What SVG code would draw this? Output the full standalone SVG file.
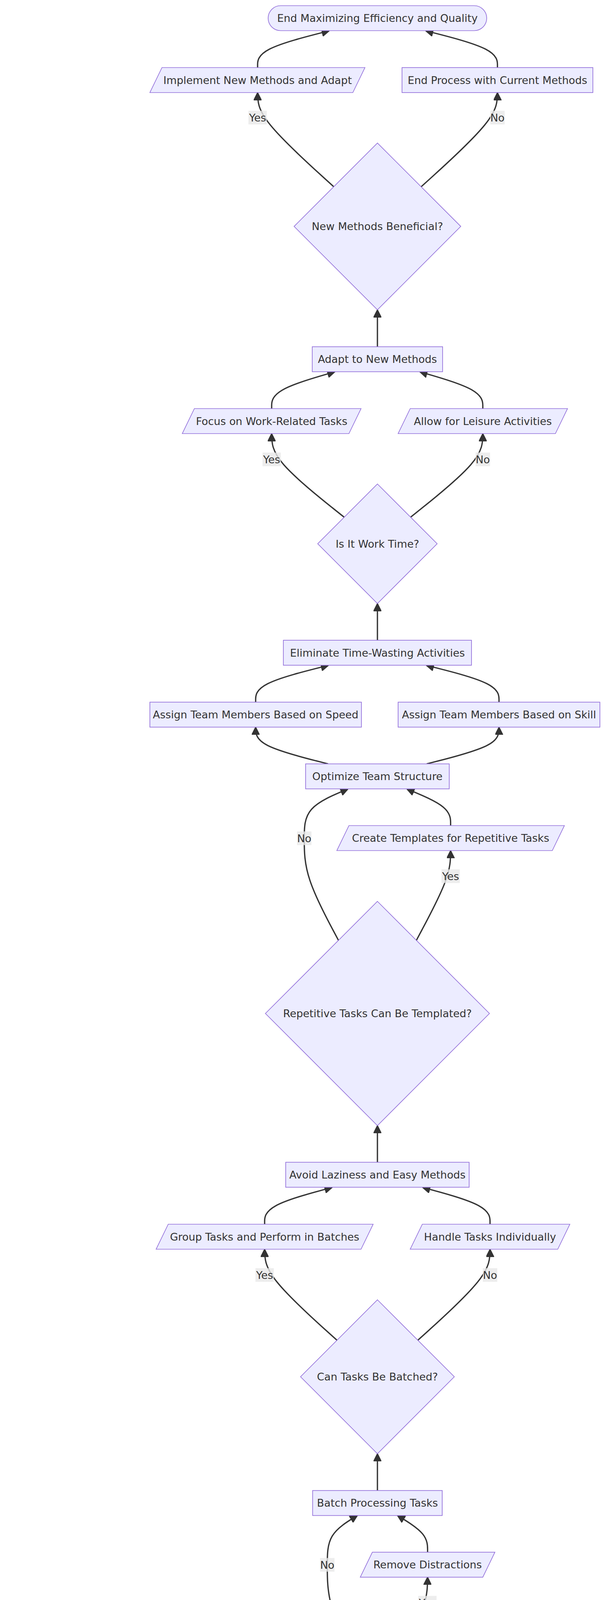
<svg xmlns="http://www.w3.org/2000/svg" width="1568" height="5816" viewBox="0 0 1568 5816">
<style>
.n{fill:#ECECFF;stroke:#9370DB;stroke-width:1.7}
.t{font-family:"DejaVu Sans",Verdana,sans-serif;font-size:26.9px;fill:#333;text-anchor:middle;dominant-baseline:central}
.e{fill:none;stroke:#333;stroke-width:3.3}
.lb{fill:#e8e8e8;opacity:0.8}
</style>
<defs>
<marker id="arr" viewBox="0 0 10 10" refX="9.5" refY="5" markerUnits="userSpaceOnUse" markerWidth="20" markerHeight="20" orient="auto"><path d="M0,0 L10,5 L0,10 z" fill="#333" stroke="#333" stroke-width="1"/></marker>
</defs>
<rect width="1568" height="5816" fill="#ffffff"/>
<g id="edges">
<path class="e" marker-end="url(#arr)" d="M657.5,5677 L657.5,5583"/>
<path class="e" marker-end="url(#arr)" d="M657.5,5518.5 L657.5,5424"/>
<path class="e" marker-end="url(#arr)" d="M528.1,5015.9 L498.2,4983.8 C468.2,4951.6 408.4,4887.3 378.4,4844.3 C348.3,4801.3 348.2,4779.5 348,4758"/>
<path class="e" marker-end="url(#arr)" d="M787.1,5016 L817.1,4983.8 C847.1,4951.7 907,4887.3 937,4844.3 C967,4801.3 967,4779.5 967,4758"/>
<path class="e" marker-end="url(#arr)" d="M348,4693.8 L348,4415.5"/>
<path class="e" marker-end="url(#arr)" d="M967,4693.8 L967,4600"/>
<path class="e" marker-end="url(#arr)" d="M1034.7,4235.1 L1044.8,4213.1 C1054.8,4191.1 1074.9,4147 1085,4114.1 C1095.2,4081.2 1095.3,4059.4 1095.5,4038"/>
<path class="e" marker-end="url(#arr)" d="M899.1,4235.3 L889,4213.3 C878.9,4191.2 858.7,4147.1 848.6,4108.9 C838.5,4070.7 838.5,4038.3 838.5,4009 C838.5,3979.6 838.5,3953.2 851.3,3932.2 C864.1,3911.1 889.6,3895.4 915.2,3880"/>
<path class="e" marker-end="url(#arr)" d="M1095.5,3973.6 L1095.5,3965.8 C1095.5,3958 1095.5,3942.4 1082.7,3926.8 C1069.9,3911.1 1044.4,3895.4 1018.8,3880"/>
<path class="e" marker-end="url(#arr)" d="M967,3815.7 L967,3722"/>
<path class="e" marker-end="url(#arr)" d="M863.4,3431.1 L832.5,3403.3 C801.6,3375.4 739.8,3319.7 708.9,3280.9 C678,3242 678,3220 678,3198.5"/>
<path class="e" marker-end="url(#arr)" d="M1070.5,3431 L1101.3,3403.2 C1132.2,3375.3 1193.8,3319.7 1224.7,3280.8 C1255.5,3242 1255.5,3220 1255.5,3198.5"/>
<path class="e" marker-end="url(#arr)" d="M678,3134 L678,3126.1 C678,3118.2 678,3102.5 706.7,3086.7 C735.5,3070.9 792.9,3055.2 850.4,3040"/>
<path class="e" marker-end="url(#arr)" d="M1255.5,3134 L1255.5,3126.1 C1255.5,3118.2 1255.5,3102.5 1226.8,3086.7 C1198.1,3070.9 1140.8,3055.2 1083.4,3040"/>
<path class="e" marker-end="url(#arr)" d="M967,2975.4 L967,2882"/>
<path class="e" marker-end="url(#arr)" d="M1066.8,2407.3 L1081.4,2379.9 C1096,2352.5 1125.3,2297.8 1139.9,2259.5 C1154.5,2221.2 1154.5,2199.3 1154.5,2178"/>
<path class="e" marker-end="url(#arr)" d="M867.2,2407.3 L852.6,2379.9 C838,2352.5 808.7,2297.8 794.1,2254.1 C779.5,2210.5 779.5,2178 779.5,2148.6 C779.5,2119.2 779.5,2092.8 798.1,2071.8 C816.7,2050.8 853.9,2035.2 891.1,2020"/>
<path class="e" marker-end="url(#arr)" d="M1154.5,2113.5 L1154.5,2105.7 C1154.5,2097.8 1154.5,2082.2 1135.9,2066.5 C1117.3,2050.8 1080.1,2035.2 1042.9,2020"/>
<path class="e" marker-end="url(#arr)" d="M840.6,1955.5 L809.7,1947.7 C778.7,1939.8 716.9,1924.2 686,1908.5 C655,1892.8 655,1877.2 655,1862"/>
<path class="e" marker-end="url(#arr)" d="M1093.2,1955.5 L1124.1,1947.7 C1155,1939.8 1216.7,1924.2 1247.6,1908.5 C1278.5,1892.8 1278.5,1877.2 1278.5,1862"/>
<path class="e" marker-end="url(#arr)" d="M655,1797.5 L655,1789.6 C655,1781.8 655,1766 686,1750.3 C717,1734.5 779,1718.8 841,1703.5"/>
<path class="e" marker-end="url(#arr)" d="M1278.5,1797.5 L1278.5,1789.6 C1278.5,1781.8 1278.5,1766 1247.6,1750.3 C1216.6,1734.5 1154.7,1718.8 1092.8,1703.5"/>
<path class="e" marker-end="url(#arr)" d="M967,1639 L967,1545.5"/>
<path class="e" marker-end="url(#arr)" d="M881.9,1324.1 L850.9,1299.4 C819.9,1274.7 758,1225.4 727,1189.7 C696,1154 696,1132 696,1110.5"/>
<path class="e" marker-end="url(#arr)" d="M1052,1324 L1082.8,1299.3 C1113.7,1274.7 1175.3,1225.3 1206.2,1189.7 C1237,1154 1237,1132 1237,1110.5"/>
<path class="e" marker-end="url(#arr)" d="M696,1046 L696,1038.1 C696,1030.3 696,1014.5 722.9,998.8 C749.8,983.1 803.7,967.3 857.5,952"/>
<path class="e" marker-end="url(#arr)" d="M1237,1046 L1237,1038.1 C1237,1030.3 1237,1014.5 1210.2,998.8 C1183.4,983.1 1129.7,967.3 1076.1,952"/>
<path class="e" marker-end="url(#arr)" d="M967,887.6 L967,793.6"/>
<path class="e" marker-end="url(#arr)" d="M855.1,478 L822.6,448.5 C790.1,419 725,360 692.5,319.8 C660,279.7 660,258.3 660,237.5"/>
<path class="e" marker-end="url(#arr)" d="M1079,478.1 L1111.6,448.6 C1144.2,419.1 1209.3,360 1241.9,319.9 C1274.5,279.7 1274.5,258.3 1274.5,237.5"/>
<path class="e" marker-end="url(#arr)" d="M660,173 L660,165.1 C660,157.3 660,141.5 690.5,125.8 C721,110 782,94.3 843,79"/>
<path class="e" marker-end="url(#arr)" d="M1274.5,173 L1274.5,165.1 C1274.5,157.3 1274.5,141.5 1244,125.8 C1213.4,110 1152.3,94.3 1091.2,79"/>
</g>
<g id="edge-labels">
<g id="lbl-new-yes"><rect class="lb" x="636.5" y="283.5" width="47" height="35"/><text class="t" x="660" y="301">Yes</text></g>
<g id="lbl-new-no"><rect class="lb" x="1256" y="283.5" width="37" height="35"/><text class="t" x="1274.5" y="301">No</text></g>
<g id="lbl-work-yes"><rect class="lb" x="672.5" y="1158.5" width="47" height="35"/><text class="t" x="696" y="1176">Yes</text></g>
<g id="lbl-work-no"><rect class="lb" x="1218.5" y="1158.5" width="37" height="35"/><text class="t" x="1237" y="1176">No</text></g>
<g id="lbl-rep-no"><rect class="lb" x="761" y="2128.5" width="37" height="35"/><text class="t" x="779.5" y="2146">No</text></g>
<g id="lbl-rep-yes"><rect class="lb" x="1131" y="2225.5" width="47" height="35"/><text class="t" x="1154.5" y="2243">Yes</text></g>
<g id="lbl-can-yes"><rect class="lb" x="654.5" y="3246.5" width="47" height="35"/><text class="t" x="678" y="3264">Yes</text></g>
<g id="lbl-can-no"><rect class="lb" x="1237" y="3246.5" width="37" height="35"/><text class="t" x="1255.5" y="3264">No</text></g>
<g id="lbl-any-no"><rect class="lb" x="820" y="3988.5" width="37" height="35"/><text class="t" x="838.5" y="4006">No</text></g>
<g id="lbl-any-yes"><rect class="lb" x="1071.5" y="4085.5" width="47" height="35"/><text class="t" x="1095" y="4103">Yes</text></g>
<g id="lbl-mat-no"><rect class="lb" x="330" y="4805.5" width="37" height="35"/><text class="t" x="348.5" y="4823">No</text></g>
<g id="lbl-mat-yes"><rect class="lb" x="943.5" y="4805.5" width="47" height="35"/><text class="t" x="967" y="4823">Yes</text></g>
</g>
<g id="end"><rect class="n" x="687" y="14.5" width="560" height="64" rx="32" ry="32"/><text class="t" x="967" y="46.5">End Maximizing Efficiency and Quality</text></g>
<g id="implement"><polygon class="n" points="415,173 935,173 904,237 384,237"/><text class="t" x="660" y="205">Implement New Methods and Adapt</text></g>
<g id="endCurrent"><rect class="n" x="1030" y="173" width="489" height="64"/><text class="t" x="1274.5" y="205">End Process with Current Methods</text></g>
<g id="newMethods"><polygon class="n" points="967,366.1 1180.5,579.6 967,793.1 753.5,579.6"/><text class="t" x="967" y="579.6">New Methods Beneficial?</text></g>
<g id="adapt"><rect class="n" x="800" y="887.6" width="334" height="64"/><text class="t" x="967" y="919.6">Adapt to New Methods</text></g>
<g id="focus"><polygon class="n" points="498,1046 925,1046 894,1110 467,1110"/><text class="t" x="696" y="1078">Focus on Work-Related Tasks</text></g>
<g id="allow"><polygon class="n" points="1051,1046 1454,1046 1423,1110 1020,1110"/><text class="t" x="1237" y="1078">Allow for Leisure Activities</text></g>
<g id="isWork"><polygon class="n" points="967,1239 1120,1392 967,1545 814,1392"/><text class="t" x="967" y="1392">Is It Work Time?</text></g>
<g id="eliminate"><rect class="n" x="726" y="1639" width="482" height="64"/><text class="t" x="967" y="1671">Eliminate Time-Wasting Activities</text></g>
<g id="speed"><rect class="n" x="384" y="1797.5" width="542" height="64"/><text class="t" x="655" y="1829.5">Assign Team Members Based on Speed</text></g>
<g id="skill"><rect class="n" x="1020" y="1797.5" width="517" height="64"/><text class="t" x="1278.5" y="1829.5">Assign Team Members Based on Skill</text></g>
<g id="optimize"><rect class="n" x="783" y="1955.5" width="368" height="64"/><text class="t" x="967" y="1987.5">Optimize Team Structure</text></g>
<g id="create"><polygon class="n" points="894,2113.5 1446,2113.5 1415,2177.5 863,2177.5"/><text class="t" x="1154.5" y="2145.5">Create Templates for Repetitive Tasks</text></g>
<g id="repetitive"><polygon class="n" points="967,2307.5 1254,2594.5 967,2881.5 680,2594.5"/><text class="t" x="967" y="2594.5">Repetitive Tasks Can Be Templated?</text></g>
<g id="avoid"><rect class="n" x="732" y="2975.4" width="470" height="64"/><text class="t" x="967" y="3007.4">Avoid Laziness and Easy Methods</text></g>
<g id="group"><polygon class="n" points="431,3134 956,3134 925,3198 400,3198"/><text class="t" x="678" y="3166">Group Tasks and Perform in Batches</text></g>
<g id="handle"><polygon class="n" points="1082,3134 1460,3134 1429,3198 1051,3198"/><text class="t" x="1255.5" y="3166">Handle Tasks Individually</text></g>
<g id="canBatch"><polygon class="n" points="967,3327.5 1164,3524.5 967,3721.5 770,3524.5"/><text class="t" x="967" y="3524.5">Can Tasks Be Batched?</text></g>
<g id="batch"><rect class="n" x="801" y="3815.7" width="332" height="64"/><text class="t" x="967" y="3847.7">Batch Processing Tasks</text></g>
<g id="remove"><polygon class="n" points="954,3973.6 1268,3973.6 1237,4037.6 923,4037.6"/><text class="t" x="1095.5" y="4005.6">Remove Distractions</text></g>
<g id="anyDistractions"><polygon class="n" points="967,4167.4 1183,4383.4 967,4599.4 751,4383.4"/><text class="t" x="967" y="4383.4">Any Distractions Present?</text></g>
<g id="endLow"><rect class="n" x="113" y="4351" width="470" height="64" rx="32" ry="32"/><text class="t" x="348" y="4383">End Process Due to Low Quality</text></g>
<g id="reject"><polygon class="n" points="46,4693.8 681,4693.8 650,4757.8 15,4757.8"/><text class="t" x="348" y="4725.8">Reject and Source High-Quality Alternatives</text></g>
<g id="work"><rect class="n" x="776" y="4693.8" width="382" height="64"/><text class="t" x="967" y="4725.8">Work Without Distractions</text></g>
<g id="materials"><polygon class="n" points="657.5,4886.5 926,5155 657.5,5423.5 389,5155"/><text class="t" x="657.5" y="5155">Materials and Tools High Quality?</text></g>
<g id="select"><rect class="n" x="415" y="5518.5" width="485" height="64"/><text class="t" x="657.5" y="5550.5">Select Quality Materials and Tools</text></g>
<g id="start"><rect class="n" x="370" y="5677" width="575" height="64" rx="32" ry="32"/><text class="t" x="657.5" y="5709">Start Maximizing Efficiency and Quality</text></g>
</svg>
